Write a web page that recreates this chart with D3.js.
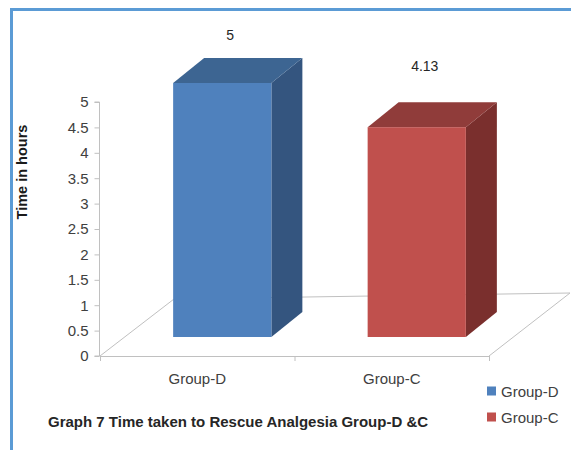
<!DOCTYPE html>
<html>
<head>
<meta charset="utf-8">
<script src="https://cdn.jsdelivr.net/npm/d3@7"></script>
<style>
  html, body { margin: 0; padding: 0; background: #fff; }
  svg { display: block; }
  text { font-family: "Liberation Sans", Arial, sans-serif; }
</style>
</head>
<body>
<svg id="chart" width="571" height="450"></svg>
<script>
// Rescue analgesia time per group (hours)
const categories = ["Group-D", "Group-C"];
const values = [5, 4.13];
const valueLabels = ["5", "4.13"];
const yTicks = [0, 0.5, 1, 1.5, 2, 2.5, 3, 3.5, 4, 4.5, 5];
const yTickLabels = ["0", "0.5", "1", "1.5", "2", "2.5", "3", "3.5", "4", "4.5", "5"];
const legendLabels = ["Group-D", "Group-C"];
const caption = "Graph 7 Time taken to Rescue Analgesia Group-D &C";
const yTitle = "Time in hours";

// face colours: front, top, side
const palette = [
  { front: "#4f81bd", top: "#3d6592", side: "#34557f" },
  { front: "#c0504d", top: "#903c3a", side: "#7a2f2d" }
];

const svg = d3.select("#chart");

// outer frame
svg.append("rect")
  .attr("x", 11.5).attr("y", 9.5)
  .attr("width", 600).attr("height", 500)
  .attr("fill", "none")
  .attr("stroke", "#5b9bd5")
  .attr("stroke-width", 3);

const x = d3.scaleBand().domain(categories).range([100, 489]);
const y = d3.scaleLinear().domain([0, 5]).range([356, 102]);
// data labels float in perspective above the bars
const labelY = d3.scaleLinear().domain([0, 5]).range([213, 35]);

// 3D projection parameters
const floorLeft = { dx: 74, dy: -57 };
const floorRight = { dx: 81, dy: -63 };
const barShift = { dx: 25, dy: -19 };   // front face offset into the floor
const barDepth = { dx: 31, dy: -25 };
const barWidth = x.bandwidth() * 0.505;

const gridColor = "#c0c0c0";

// floor outline
const x0 = x.range()[0], x1 = x.range()[1], yb = y(0);
svg.append("path")
  .attr("d", `M${x0},${yb} L${x0 + floorLeft.dx},${yb + floorLeft.dy} L${x1 + floorRight.dx},${yb + floorRight.dy} L${x1},${yb}`)
  .attr("fill", "none").attr("stroke", gridColor).attr("stroke-width", 1);

// category axis
const gx = svg.append("g").attr("transform", `translate(0,${yb})`);
gx.append("line").attr("x1", x0).attr("x2", x1).attr("y1", 0.5).attr("y2", 0.5)
  .attr("stroke", gridColor);
// boundary tick marks
[x0, x0 + x.bandwidth(), x1].forEach(t => {
  gx.append("line").attr("x1", t + 0.5).attr("x2", t + 0.5).attr("y1", 0).attr("y2", 5)
    .attr("stroke", gridColor);
});
gx.selectAll(".cat").data(categories).enter().append("text")
  .attr("x", d => x(d) + x.bandwidth() / 2)
  .attr("y", 28)
  .attr("text-anchor", "middle")
  .attr("font-size", 15)
  .attr("fill", "#404040")
  .text(d => d);

// value axis
const yAxis = d3.axisLeft(y).tickValues(yTicks)
  .tickFormat((d, i) => yTickLabels[i]).tickSize(5).tickPadding(6);
const gy = svg.append("g").attr("transform", `translate(99.5,0)`).call(yAxis);
gy.select(".domain").attr("stroke", gridColor).attr("d", `M-5,${y(5)}H0V${y(0)}H-5`);
gy.selectAll(".tick line").attr("stroke", gridColor);
gy.selectAll(".tick text")
  .attr("font-family", "Liberation Sans, Arial, sans-serif")
  .attr("font-size", 15).attr("fill", "#404040");

// axis title
svg.append("text")
  .attr("transform", `translate(27,${(y(0) + y(5)) / 2 - 57}) rotate(-90)`)
  .attr("text-anchor", "middle")
  .attr("font-size", 14.5).attr("font-weight", "bold").attr("fill", "#1a1a1a")
  .text(yTitle);

// 3D bars
const bars = svg.append("g");
categories.forEach((c, i) => {
  const v = values[i];
  const col = palette[i];
  const left = x(c) + x.bandwidth() / 2 + barShift.dx - barWidth / 2;
  const right = left + barWidth;
  const top = y(v) + barShift.dy;
  const bottom = y(0) + barShift.dy;
  const g = bars.append("g");
  // side face
  g.append("path")
    .attr("d", `M${right},${top} L${right + barDepth.dx},${top + barDepth.dy} L${right + barDepth.dx},${bottom + barDepth.dy} L${right},${bottom}Z`)
    .attr("fill", col.side);
  // top face
  g.append("path")
    .attr("d", `M${left},${top} L${left + barDepth.dx},${top + barDepth.dy} L${right + barDepth.dx},${top + barDepth.dy} L${right},${top}Z`)
    .attr("fill", col.top);
  // front face
  g.append("rect")
    .attr("x", left).attr("y", top)
    .attr("width", barWidth).attr("height", bottom - top)
    .attr("fill", col.front);
  // value label
  svg.append("text")
    .attr("x", x(c) + x.bandwidth() / 2 + 33)
    .attr("y", labelY(v) + 5)
    .attr("text-anchor", "middle")
    .attr("font-size", 14)
    .attr("fill", "#262626")
    .text(valueLabels[i]);
});

// legend
const legend = svg.append("g");
legendLabels.forEach((l, i) => {
  const ly = 391 + i * 26;
  legend.append("rect")
    .attr("x", 487).attr("y", ly - 4.5).attr("width", 9).attr("height", 9)
    .attr("fill", palette[i].front);
  legend.append("text")
    .attr("x", 501).attr("y", ly + 5.5)
    .attr("font-size", 15).attr("fill", "#404040")
    .text(l);
});

// caption
svg.append("text")
  .attr("x", 48).attr("y", 427)
  .attr("font-size", 15).attr("font-weight", "bold").attr("fill", "#262626")
  .text(caption);
</script>
</body>
</html>
